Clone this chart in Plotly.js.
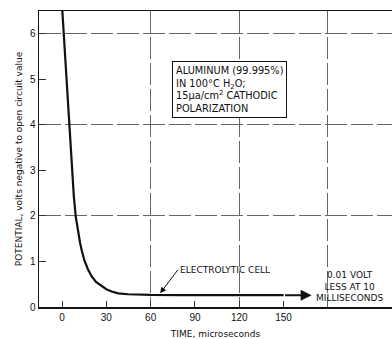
<!DOCTYPE html>
<html><head><meta charset="utf-8">
<script src="https://cdn.plot.ly/plotly-3.0.1.min.js"></script>
<style>html,body{margin:0;padding:0;background:#fff}</style>
</head><body><div id="chart" style="width:392px;height:339px"></div>
<script>
// Data
const timeUs = [0.2, 2, 4, 5.5, 7, 8, 9.3, 10.5, 12.2, 13.5, 15.1, 17.5, 20.1, 23, 26.9, 30, 33.6, 38, 44.7, 52, 60, 80, 100, 130, 150, 169];
const potentialV = [6.5, 5.55, 4.47, 3.67, 2.9, 2.42, 1.98, 1.7, 1.41, 1.22, 1.03, 0.83, 0.67, 0.55, 0.45, 0.39, 0.34, 0.30, 0.28, 0.27, 0.265, 0.26, 0.26, 0.26, 0.26, 0.26];
const xTickVals = [0, 30, 60, 90, 120, 150];
const xTickText = ['0', '30', '60', '90', '120', '150'];
const yTickVals = [0, 1, 2, 3, 4, 5, 6];
const yTickText = ['0', '1', '2', '3', '4', '5', '6'];
const xGridVals = [60, 120, 180];
const yGridVals = [2, 4, 6];
const electrolyticPoint = {t: 66.4, v: 0.3};
const electrolyticLabel = {t: 78.5, v: 0.82};
const noteLabel = {t: 195, v: 0.45};

const F = 'DejaVu Sans, sans-serif';
const ink = '#111';
const xRange = [-15.6, 223.4];
const yRange = [0, 6.5];
const n = timeUs.length;

const traces = [
  {x: timeUs.slice(0, n - 1), y: potentialV.slice(0, n - 1), mode: 'lines', line: {color: ink, width: 2.2}, hoverinfo: 'skip', xaxis: 'x', yaxis: 'y'},
  {x: [], y: [], xaxis: 'x2', yaxis: 'y2', hoverinfo: 'skip'}
];

const grid = {gridcolor: '#666', gridwidth: 1, griddash: '22px,4px'};

const layout = {
  width: 392, height: 339,
  margin: {l: 39, r: 0, t: 11, b: 32},
  paper_bgcolor: '#fff', plot_bgcolor: '#fff',
  showlegend: false,
  font: {family: F, color: ink},
  xaxis: {
    range: xRange, tickmode: 'array', tickvals: xTickVals, ticktext: xTickText,
    ticks: 'inside', ticklen: 6, tickcolor: '#333', tickwidth: 1,
    showgrid: false, zeroline: false,
    showline: true, linecolor: ink, linewidth: 1.5, mirror: true,
    tickfont: {family: 'Liberation Sans, sans-serif', size: 10, color: ink},
    title: {text: 'TIME, microseconds', font: {family: F, size: 9, color: ink}, standoff: 9},
    automargin: false
  },
  yaxis: {
    range: yRange, tickmode: 'array', tickvals: yTickVals, ticktext: yTickText,
    ticks: 'inside', ticklen: 7, tickcolor: '#333', tickwidth: 1,
    showgrid: false, zeroline: false,
    showline: true, linecolor: ink, linewidth: 1.5,
    tickfont: {family: 'Liberation Sans, sans-serif', size: 10, color: ink},
    title: {text: 'POTENTIAL, volts negative to open circuit value', font: {family: F, size: 9, color: ink}, standoff: 6},
    automargin: false
  },
  xaxis2: Object.assign({
    overlaying: 'x', matches: 'x', anchor: 'y2', range: xRange,
    tickmode: 'array', tickvals: xGridVals, showgrid: true,
    showticklabels: false, ticks: '', showline: false, zeroline: false
  }, grid),
  yaxis2: Object.assign({
    overlaying: 'y', matches: 'y', anchor: 'x2', range: yRange,
    tickmode: 'array', tickvals: yGridVals, showgrid: true,
    showticklabels: false, ticks: '', showline: false, zeroline: false
  }, grid),
  annotations: [
    {
      xref: 'x', yref: 'y', x: timeUs[n - 1], y: potentialV[n - 1],
      axref: 'x', ayref: 'y', ax: timeUs[n - 2], ay: potentialV[n - 2],
      showarrow: true, arrowhead: 2, arrowsize: 1.1, arrowwidth: 2, arrowcolor: ink, text: ''
    },
    {
      xref: 'x', yref: 'y', x: electrolyticPoint.t, y: electrolyticPoint.v,
      axref: 'x', ayref: 'y', ax: electrolyticLabel.t, ay: electrolyticLabel.v,
      showarrow: true, arrowhead: 2, arrowsize: 1.2, arrowwidth: 1, arrowcolor: ink,
      text: 'ELECTROLYTIC CELL', xanchor: 'left', yanchor: 'middle',
      font: {family: F, size: 9, color: ink}
    },
    {
      xref: 'x', yref: 'y', x: noteLabel.t, y: noteLabel.v, showarrow: false,
      text: '0.01 VOLT<br>LESS AT 10<br>MILLISECONDS', align: 'center',
      xanchor: 'center', yanchor: 'middle', font: {family: F, size: 9, color: ink}
    },
    {
      xref: 'paper', yref: 'paper', x: 0.377, y: 0.831, xanchor: 'left', yanchor: 'top',
      showarrow: false, align: 'left',
      text: 'ALUMINUM (99.995%)<br>IN 100°C H<sub>2</sub>O;<br>15μa/cm<sup>2</sup> CATHODIC<br>POLARIZATION',
      bordercolor: ink, borderwidth: 1, borderpad: 3, bgcolor: '#fff',
      font: {family: F, size: 9.8, color: ink}
    }
  ]
};

Plotly.newPlot('chart', traces, layout, {displayModeBar: false, staticPlot: true});
</script></body></html>
